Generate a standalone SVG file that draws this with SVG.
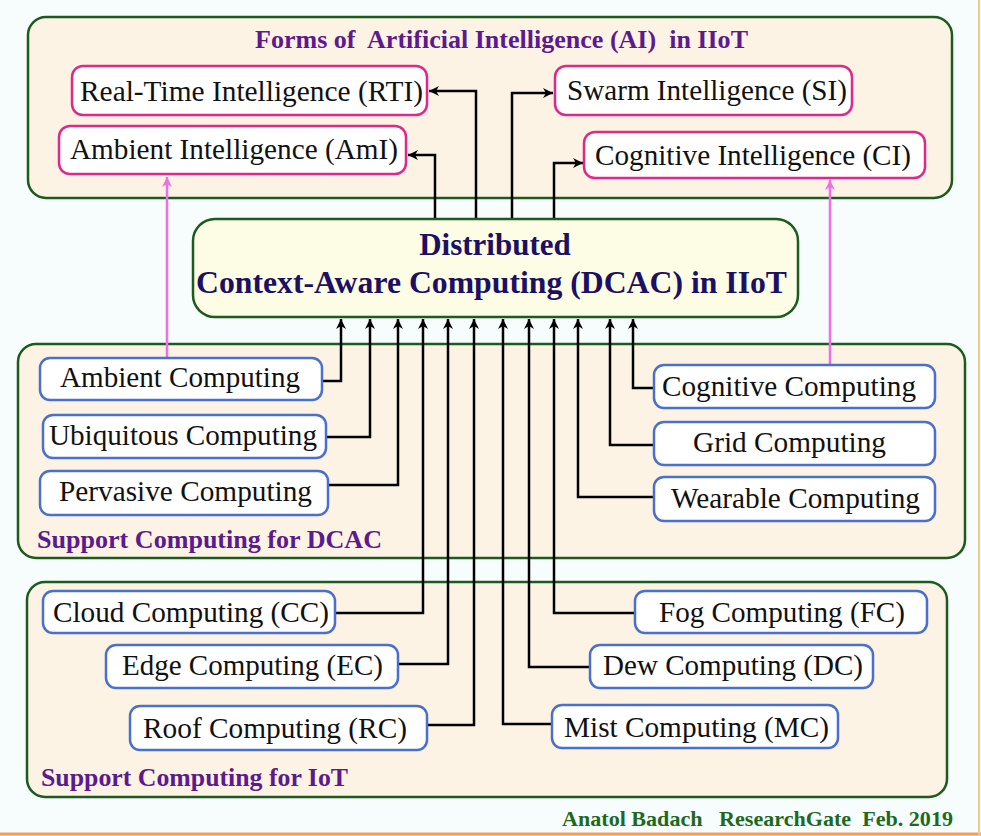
<svg xmlns="http://www.w3.org/2000/svg" width="981" height="836" viewBox="0 0 981 836">
<defs>
<marker id="ah" markerUnits="userSpaceOnUse" markerWidth="12" markerHeight="12" refX="10" refY="5" orient="auto">
<path d="M0,0 L10,5 L0,10 L3,5 Z" fill="#000"/>
</marker>
<marker id="ahp" markerUnits="userSpaceOnUse" markerWidth="12" markerHeight="12" refX="10" refY="5" orient="auto">
<path d="M0,0 L10,5 L0,10 L3,5 Z" fill="#ee6ee6"/>
</marker>
<style>
.cont{fill:#fdf3e5;stroke:#1d5a1d;stroke-width:2.5}
.ai{fill:#fff;stroke:#e0288a;stroke-width:2.5}
.cb{fill:#fff;stroke:#4a70cc;stroke-width:2.5}
.t{font-family:"Liberation Serif","Times New Roman",serif;font-size:29px;fill:#111}
.sec{font-family:"Liberation Serif","Times New Roman",serif;font-size:26px;font-weight:bold;fill:#5b1a8e}
.dc{font-family:"Liberation Serif","Times New Roman",serif;font-size:31px;font-weight:bold;fill:#1c1064}
.ft{font-family:"Liberation Serif","Times New Roman",serif;font-size:22px;font-weight:bold;fill:#1d6a1d}
.ln{fill:none;stroke:#000;stroke-width:2.5;marker-end:url(#ah)}
.pk{fill:none;stroke:#ee6ee6;stroke-width:2.5;marker-end:url(#ahp)}
</style>
</defs>
<rect x="0" y="0" width="981" height="836" fill="#f7fcfd"/>
<line x1="0" y1="834" x2="981" y2="834" stroke="#f0a050" stroke-width="3"/>
<line x1="979" y1="0" x2="979" y2="836" stroke="#f6c890" stroke-width="2"/>

<g id="ai-container">
<rect class="cont" x="28" y="17" width="924" height="181" rx="18"/>
<text class="sec" x="255" y="48" textLength="493" lengthAdjust="spacingAndGlyphs" xml:space="preserve">Forms of  Artificial Intelligence (AI)  in IIoT</text>
</g>
<g id="dcac-container">
<rect class="cont" x="18" y="344" width="947" height="214" rx="18"/>
<text class="sec" x="37" y="548" textLength="345" lengthAdjust="spacingAndGlyphs">Support Computing for DCAC</text>
</g>
<g id="iot-container">
<rect class="cont" x="27" y="582" width="920" height="215" rx="18"/>
<text class="sec" x="41" y="786" textLength="307" lengthAdjust="spacingAndGlyphs">Support Computing for IoT</text>
</g>

<g id="connectors">
<path class="ln" d="M476,219 V91 H429"/>
<path class="ln" d="M435,219 V155 H408"/>
<path class="ln" d="M512,219 V93 H553"/>
<path class="ln" d="M554,219 V163 H583"/>
<path class="ln" d="M322,381 H341 V319"/>
<path class="ln" d="M326,437 H370 V319"/>
<path class="ln" d="M328,485 H398 V319"/>
<path class="ln" d="M336,613 H423 V319"/>
<path class="ln" d="M398,664 H448 V319"/>
<path class="ln" d="M427,725 H474 V319"/>
<path class="ln" d="M552,724 H503 V319"/>
<path class="ln" d="M590,667 H529 V319"/>
<path class="ln" d="M635,613 H554 V319"/>
<path class="ln" d="M653,497 H578 V319"/>
<path class="ln" d="M653,445 H610 V319"/>
<path class="ln" d="M653,388 H633 V319"/>
<path class="pk" d="M167,357 V177"/>
<path class="pk" d="M830,365 V180"/>
</g>

<g id="dcac">
<rect x="193" y="219" width="605" height="98" rx="22" fill="#fdfde6" stroke="#1d5a1d" stroke-width="2.5"/>
<text class="dc" x="495" y="255" text-anchor="middle">Distributed</text>
<text class="dc" x="196" y="293" textLength="591" lengthAdjust="spacingAndGlyphs">Context-Aware Computing (DCAC) in IIoT</text>
</g>

<g id="rti"><rect class="ai" x="72" y="66" width="355" height="49" rx="11"/>
<text class="t" x="80" y="101" textLength="343" lengthAdjust="spacingAndGlyphs">Real-Time Intelligence (RTI)</text></g>
<g id="ami"><rect class="ai" x="59" y="126" width="347" height="48" rx="11"/>
<text class="t" x="70" y="159" textLength="328" lengthAdjust="spacingAndGlyphs">Ambient Intelligence (AmI)</text></g>
<g id="si"><rect class="ai" x="555" y="66" width="297" height="49" rx="11"/>
<text class="t" x="567" y="100" textLength="280" lengthAdjust="spacingAndGlyphs">Swarm Intelligence (SI)</text></g>
<g id="ci"><rect class="ai" x="584" y="132" width="341" height="46" rx="11"/>
<text class="t" x="595" y="165" textLength="316" lengthAdjust="spacingAndGlyphs">Cognitive Intelligence (CI)</text></g>

<g id="ambient"><rect class="cb" x="40" y="358" width="282" height="42" rx="10"/>
<text class="t" x="60" y="387" textLength="240" lengthAdjust="spacingAndGlyphs">Ambient Computing</text></g>
<g id="ubiquitous"><rect class="cb" x="43" y="415" width="283" height="43" rx="10"/>
<text class="t" x="49" y="445" textLength="268" lengthAdjust="spacingAndGlyphs">Ubiquitous Computing</text></g>
<g id="pervasive"><rect class="cb" x="40" y="471" width="288" height="44" rx="10"/>
<text class="t" x="59" y="501" textLength="253" lengthAdjust="spacingAndGlyphs">Pervasive Computing</text></g>
<g id="cognitive"><rect class="cb" x="654" y="365" width="281" height="43" rx="10"/>
<text class="t" x="662" y="396" textLength="254" lengthAdjust="spacingAndGlyphs">Cognitive Computing</text></g>
<g id="grid"><rect class="cb" x="654" y="422" width="281" height="43" rx="10"/>
<text class="t" x="693" y="452" textLength="193" lengthAdjust="spacingAndGlyphs">Grid Computing</text></g>
<g id="wearable"><rect class="cb" x="654" y="477" width="281" height="44" rx="10"/>
<text class="t" x="671" y="508" textLength="249" lengthAdjust="spacingAndGlyphs">Wearable Computing</text></g>

<g id="cloud"><rect class="cb" x="43" y="591" width="292" height="42" rx="10"/>
<text class="t" x="53" y="622" textLength="276" lengthAdjust="spacingAndGlyphs">Cloud Computing (CC)</text></g>
<g id="edge"><rect class="cb" x="106" y="645" width="292" height="43" rx="10"/>
<text class="t" x="122" y="675" textLength="261" lengthAdjust="spacingAndGlyphs">Edge Computing (EC)</text></g>
<g id="roof"><rect class="cb" x="130" y="706" width="297" height="44" rx="10"/>
<text class="t" x="143" y="738" textLength="264" lengthAdjust="spacingAndGlyphs">Roof Computing (RC)</text></g>
<g id="fog"><rect class="cb" x="635" y="591" width="292" height="42" rx="10"/>
<text class="t" x="659" y="622" textLength="246" lengthAdjust="spacingAndGlyphs">Fog Computing (FC)</text></g>
<g id="dew"><rect class="cb" x="590" y="645" width="283" height="43" rx="10"/>
<text class="t" x="603" y="675" textLength="260" lengthAdjust="spacingAndGlyphs">Dew Computing (DC)</text></g>
<g id="mist"><rect class="cb" x="552" y="705" width="286" height="43" rx="10"/>
<text class="t" x="564" y="737" textLength="265" lengthAdjust="spacingAndGlyphs">Mist Computing (MC)</text></g>

<g id="footer">
<text class="ft" x="562" y="826" textLength="391" lengthAdjust="spacingAndGlyphs" xml:space="preserve">Anatol Badach   ResearchGate  Feb. 2019</text>
</g>
</svg>
